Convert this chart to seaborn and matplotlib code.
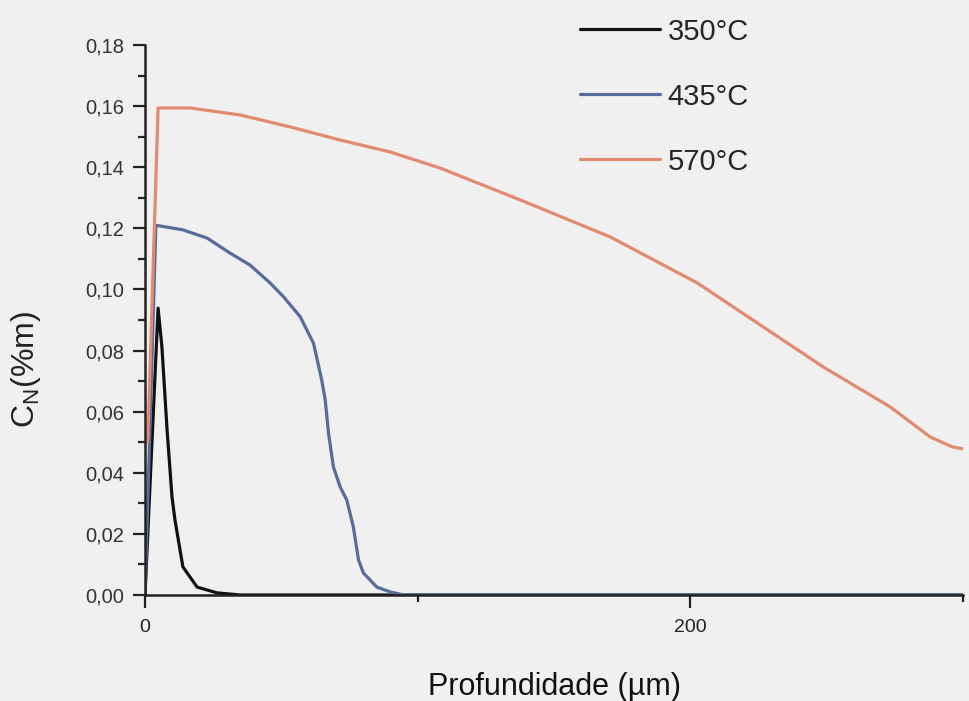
import numpy as np
import pandas as pd
import seaborn as sns
import matplotlib
matplotlib.use("Agg")
import matplotlib.pyplot as plt
from matplotlib.ticker import MultipleLocator, FuncFormatter

# Nitrogen concentration profiles vs. depth for three nitriding temperatures
temps = ["350°C", "435°C", "570°C"]

depth_350 = [0, 4.8, 6.2, 8.1, 9.9, 11.0, 13.9, 19.1, 26.4, 35, 300]
cn_350 = [0, 0.0939, 0.0812, 0.054, 0.0321, 0.0245, 0.0092, 0.0026, 0.0007, 0, 0]

depth_435 = [0, 4.0, 13.9, 22.8, 31.2, 38.5, 45.9, 50.8, 56.9, 61.8, 64.8, 66.1,
             67.3, 69.1, 71.6, 74.0, 76.4, 78.3, 80.1, 85.0, 89.9, 95, 300]
cn_435 = [0, 0.121, 0.1195, 0.1168, 0.1119, 0.1080, 0.1021, 0.0976, 0.0911, 0.0824,
          0.0704, 0.0638, 0.053, 0.0419, 0.0353, 0.0311, 0.0223, 0.0115, 0.0072,
          0.0026, 0.0010, 0, 0]

depth_570 = [1.0, 4.8, 16.5, 34.9, 53.2, 71.6, 89.9, 108.3, 137.6, 170.6, 202.6,
             224.6, 248.8, 273.4, 288, 296, 300]
cn_570 = [0.05, 0.1594, 0.1594, 0.1571, 0.1532, 0.1489, 0.145, 0.1397, 0.1293,
          0.1172, 0.1021, 0.089, 0.0746, 0.0615, 0.0517, 0.0485, 0.0478]

colors = ["#111111", "#566c9c", "#e28a6e"]

df = pd.concat([
    pd.DataFrame({"depth": depth_350, "cn": cn_350, "temp": temps[0]}),
    pd.DataFrame({"depth": depth_435, "cn": cn_435, "temp": temps[1]}),
    pd.DataFrame({"depth": depth_570, "cn": cn_570, "temp": temps[2]}),
], ignore_index=True)

sns.set_theme(style="ticks")
bg = "#f0f0f0"
plt.rcParams["font.family"] = ["Liberation Sans", "DejaVu Sans"]
plt.rcParams["figure.facecolor"] = bg
plt.rcParams["axes.facecolor"] = bg

fig = plt.figure(figsize=(9.69, 7.01), dpi=100)
ax = fig.add_axes([145 / 969, 1 - 595 / 701, 818 / 969, 550 / 701])

sns.lineplot(data=df, x="depth", y="cn", hue="temp", hue_order=temps,
             palette=colors, estimator=None, sort=False, linewidth=2.3, ax=ax)

ax.set_xlim(0, 300)
ax.set_ylim(0, 0.18)

ax.xaxis.set_major_locator(MultipleLocator(200))
ax.xaxis.set_minor_locator(MultipleLocator(100))
ax.yaxis.set_major_locator(MultipleLocator(0.02))
ax.yaxis.set_minor_locator(MultipleLocator(0.01))
ax.yaxis.set_major_formatter(FuncFormatter(lambda v, p: f"{v:.2f}".replace(".", ",")))
ax.xaxis.set_major_formatter(FuncFormatter(lambda v, p: f"{v:.0f}"))

sns.despine(ax=ax)
for s in ("left", "bottom"):
    ax.spines[s].set_linewidth(1.8)
    ax.spines[s].set_color("#222222")

ax.tick_params(axis="both", which="major", direction="out", length=9, width=1.6,
               color="#222222")
ax.tick_params(axis="both", which="minor", direction="out", length=5, width=1.6,
               color="#222222")
ax.tick_params(axis="y", which="major", labelsize=14.5, pad=6, labelcolor="#333333")
ax.tick_params(axis="x", which="major", labelsize=14, pad=8, labelcolor="#222222")

ax.set_xlabel("Profundidade (µm)", fontsize=22, labelpad=26, color="#111111")
ax.set_ylabel("C$_\\mathregular{N}$(%m)", fontsize=23, color="#222222")
ax.yaxis.set_label_coords(-0.125, 0.41)

handles, labels = ax.get_legend_handles_labels()
ax.legend(handles, labels, loc="upper left", bbox_to_anchor=(580 / 969, 0.975),
          bbox_transform=fig.transFigure, frameon=False, fontsize=21,
          handlelength=2.75, handletextpad=0.25, labelspacing=1.27,
          borderpad=0, borderaxespad=0)

fig.savefig("out.png", dpi=100, facecolor=bg)
